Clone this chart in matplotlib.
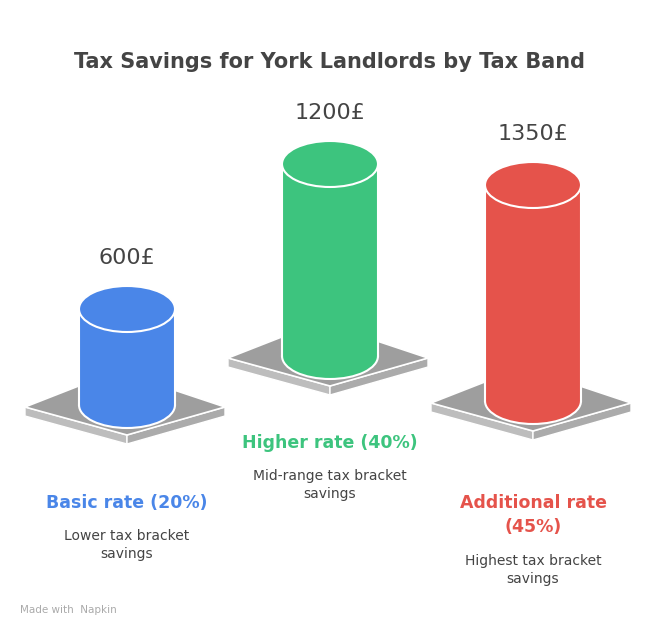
import matplotlib
matplotlib.use("Agg")
import matplotlib.pyplot as plt
from matplotlib.patches import Ellipse, Polygon, Rectangle

categories = ["Basic rate (20%)", "Higher rate (40%)", "Additional rate\n(45%)"]
values = [600, 1200, 1350]
value_labels = ["600£", "1200£", "1350£"]
descriptions = ["Lower tax bracket\nsavings", "Mid-range tax bracket\nsavings", "Highest tax bracket\nsavings"]

colors = ["#4A86E8", "#3DC47E", "#E5534B"]
centers = [127, 330, 533]
bases = [405, 356, 401]
label_y = [503, 443, 515]
desc_y = [545, 485, 570]
scale = 0.16
hw, ry = 48, 23

fig = plt.figure(figsize=(6.6, 6.36), dpi=100)
ax = fig.add_axes([0, 0, 1, 1])
ax.set_xlim(0, 660); ax.set_ylim(636, 0); ax.axis("off")

for i, v in enumerate(values):
    cx, by, c = centers[i], bases[i], colors[i]
    L, R, B, F = (cx - 102, by + 2), (cx + 98, by + 2), (cx - 10, by - 34), (cx, by + 30)
    t = 9
    ax.add_patch(Polygon([L, F, (F[0], F[1] + t), (L[0], L[1] + t)], closed=True, fc="#BDBDBD", ec="white", lw=1, zorder=1))
    ax.add_patch(Polygon([F, R, (R[0], R[1] + t), (F[0], F[1] + t)], closed=True, fc="#ABABAB", ec="white", lw=1, zorder=1))
    ax.add_patch(Polygon([L, B, R, F], closed=True, fc="#9E9E9E", ec="white", lw=1.2, zorder=1))
    h = v * scale
    ty = by - h
    ax.add_patch(Ellipse((cx, by), 2 * hw, 2 * ry, fc=c, ec="white", lw=1.5, zorder=2))
    ax.add_patch(Rectangle((cx - hw, ty), 2 * hw, h, fc=c, ec="none", zorder=3))
    ax.plot([cx - hw, cx - hw], [ty, by], color="white", lw=1.5, zorder=4)
    ax.plot([cx + hw, cx + hw], [ty, by], color="white", lw=1.5, zorder=4)
    ax.add_patch(Ellipse((cx, ty), 2 * hw, 2 * ry, fc=c, ec="white", lw=1.5, zorder=5))
    ax.text(cx, ty - ry - 28, value_labels[i], ha="center", va="center", fontsize=16, color="#444444", zorder=6)
    ax.text(cx, label_y[i], categories[i], ha="center", va="center", fontsize=12.5, fontweight="bold", color=c, linespacing=1.4)
    ax.text(cx, desc_y[i], descriptions[i], ha="center", va="center", fontsize=10, color="#444444", linespacing=1.3)

ax.text(330, 62, "Tax Savings for York Landlords by Tax Band", ha="center", va="center",
        fontsize=15, fontweight="bold", color="#444444")
ax.text(20, 610, "Made with  Napkin", ha="left", va="center", fontsize=7.5, color="#AAAAAA")
fig.savefig("out.png", dpi=100, facecolor="white")
